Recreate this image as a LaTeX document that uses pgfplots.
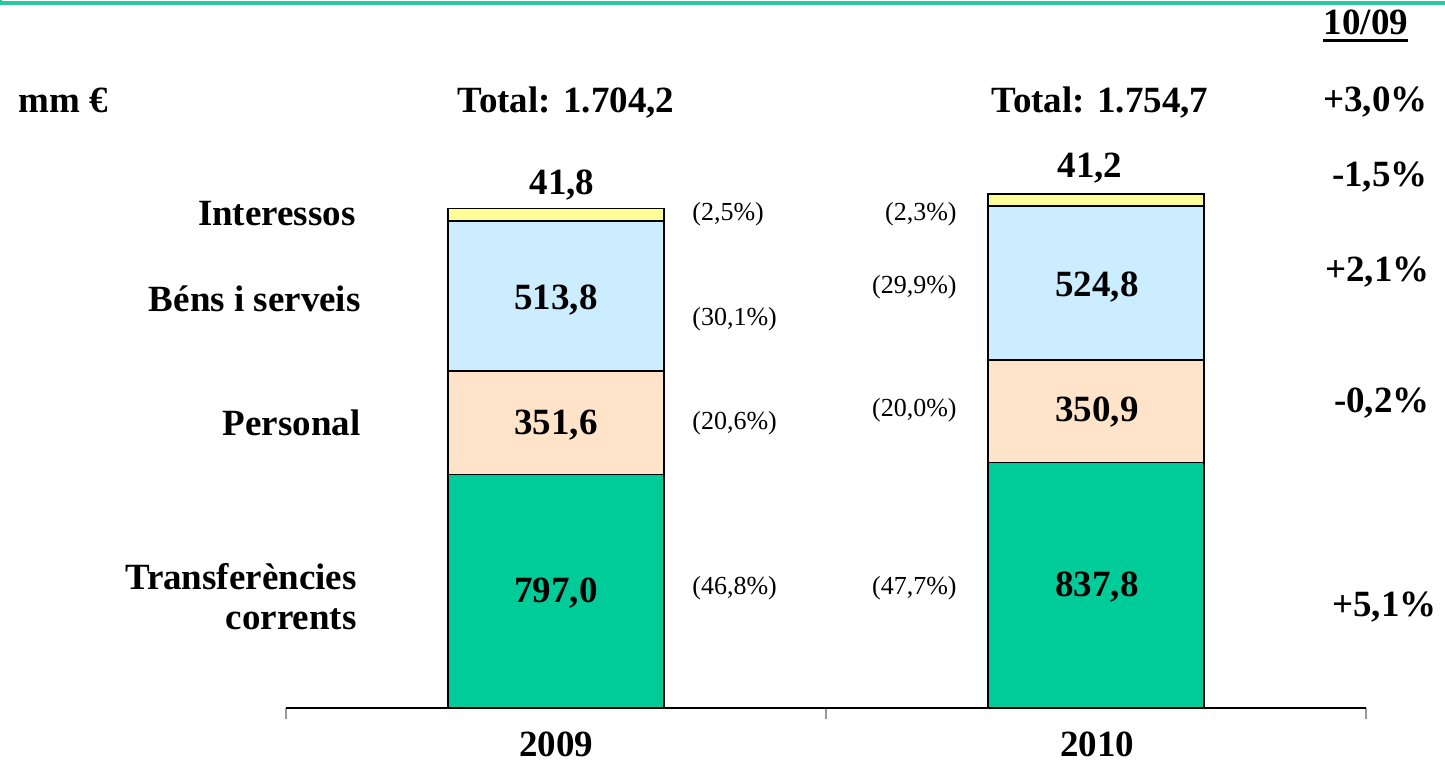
\documentclass[border=0pt]{standalone}
\usepackage{fontspec}
\setmainfont{Liberation Serif}
\usepackage{pgfplots}
\pgfplotsset{compat=1.18}
\definecolor{cgreen}{RGB}{0,204,153}
\definecolor{cpeach}{RGB}{255,228,201}
\definecolor{cblue}{RGB}{204,236,255}
\definecolor{cyellow}{RGB}{255,255,153}
\definecolor{cline}{RGB}{40,200,160}
\newcommand{\bigb}{\fontsize{18.5}{21}\selectfont\bfseries}
\newcommand{\pct}{\fontsize{13}{15}\selectfont}
\begin{document}
\begin{tikzpicture}
\useasboundingbox (0,0) rectangle (722.5pt,381.5pt);
\begin{axis}[
  at={(143pt,27.5pt)}, anchor=south west,
  width=540pt, height=354pt, scale only axis,
  xmin=-0.5, xmax=1.5, ymin=0, ymax=2416,
  axis x line=bottom, axis y line=none,
  axis line style={-, black, line width=0.75pt},
  xtick={-0.5,0.5,1.5}, xticklabels={},
  tick align=outside, major tick length=5.5pt,
  tick style={black!40, line width=0.75pt},
  ybar stacked, bar width=108pt,
  clip=false,
]
\addplot[fill=cgreen, draw=black, line width=0.9pt] coordinates {(0,797.0) (1,837.8)};
\addplot[fill=cpeach, draw=black, line width=0.9pt] coordinates {(0,351.6) (1,350.9)};
\addplot[fill=cblue, draw=black, line width=0.9pt] coordinates {(0,513.8) (1,524.8)};
\addplot[fill=cyellow, draw=black, line width=0.9pt] coordinates {(0,41.8) (1,41.2)};
\end{axis}
\begin{scope}[x=0.5pt, y=-0.5pt, shift={(0pt,381.5pt)}]
\draw[cline, line width=1.6pt] (0,3) -- (1445,3);
\draw[cline, line width=1.2pt] (1,0) -- (1,4);
% header
\node[anchor=base, inner sep=0pt] at (1366,35) {\bigb 10/09};
\draw[line width=1.5pt] (1323,41) -- (1408,41);
\node[anchor=base west, inner sep=0pt] at (18,113) {\bigb mm €};
\node[anchor=base, inner sep=0pt] at (566,113) {\bigb Total: 1.704,2};
\node[anchor=base, inner sep=0pt] at (1100,113) {\bigb Total: 1.754,7};
% right column
\node[anchor=base east, inner sep=0pt] at (1428,112) {\bigb +3,0\%};
\node[anchor=base east, inner sep=0pt] at (1428,187) {\bigb -1,5\%};
\node[anchor=base east, inner sep=0pt] at (1430,282) {\bigb +2,1\%};
\node[anchor=base east, inner sep=0pt] at (1430,413) {\bigb -0,2\%};
\node[anchor=base east, inner sep=0pt] at (1437,617) {\bigb +5,1\%};
% left labels
\node[anchor=base east, inner sep=0pt] at (356,226) {\bigb Interessos};
\node[anchor=base east, inner sep=0pt] at (361,312) {\bigb Béns i serveis};
\node[anchor=base east, inner sep=0pt] at (361,436) {\bigb Personal};
\node[anchor=base east, inner sep=0pt] at (357,590) {\bigb Transferències};
\node[anchor=base east, inner sep=0pt] at (357,630) {\bigb corrents};
% bar values
\node[anchor=base, inner sep=0pt] at (562,195) {\bigb 41,8};
\node[anchor=base, inner sep=0pt] at (1090,178) {\bigb 41,2};
\node[anchor=base, inner sep=0pt] at (556,310) {\bigb 513,8};
\node[anchor=base, inner sep=0pt] at (1097,297) {\bigb 524,8};
\node[anchor=base, inner sep=0pt] at (556,435) {\bigb 351,6};
\node[anchor=base, inner sep=0pt] at (1097,422) {\bigb 350,9};
\node[anchor=base, inner sep=0pt] at (556,603) {\bigb 797,0};
\node[anchor=base, inner sep=0pt] at (1097,597) {\bigb 837,8};
% percentages
\node[anchor=base west, inner sep=0pt] at (692,221) {\pct (2,5\%)};
\node[anchor=base west, inner sep=0pt] at (692,326) {\pct (30,1\%)};
\node[anchor=base west, inner sep=0pt] at (692,430) {\pct (20,6\%)};
\node[anchor=base west, inner sep=0pt] at (692,595) {\pct (46,8\%)};
\node[anchor=base east, inner sep=0pt] at (957,221) {\pct (2,3\%)};
\node[anchor=base east, inner sep=0pt] at (957,294) {\pct (29,9\%)};
\node[anchor=base east, inner sep=0pt] at (957,417) {\pct (20,0\%)};
\node[anchor=base east, inner sep=0pt] at (957,595) {\pct (47,7\%)};
% category labels
\node[anchor=base, inner sep=0pt] at (556,757) {\bigb 2009};
\node[anchor=base, inner sep=0pt] at (1097,757) {\bigb 2010};
\end{scope}
\end{tikzpicture}
\end{document}
